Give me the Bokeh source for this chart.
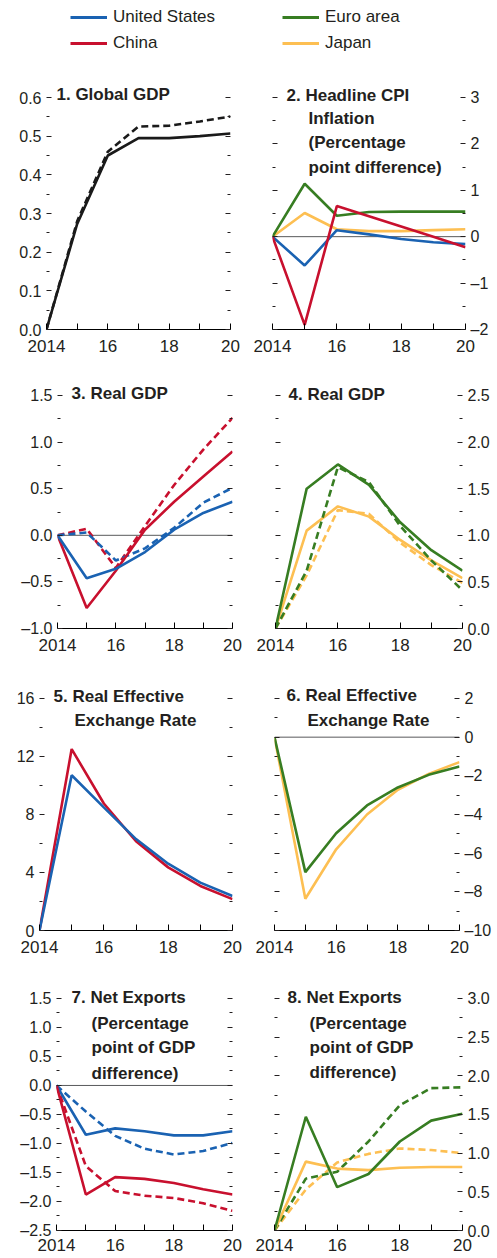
from bokeh.plotting import figure
from bokeh.models import Range1d, FixedTicker, LinearAxis, Span, Label, Legend, LegendItem
from bokeh.layouts import column, row
from bokeh.embed import file_html
from bokeh.resources import INLINE

# ---------------- data ----------------
years = [2014, 2015, 2016, 2017, 2018, 2019, 2020]
year_labels = ["2014", "", "16", "", "18", "", "20"]

legend_names = ["United States", "China", "Euro area", "Japan"]

# 1. Global GDP
p1_solid = [0.0, 0.273, 0.45, 0.495, 0.495, 0.50, 0.507]
p1_dashed = [0.0, 0.28, 0.46, 0.525, 0.527, 0.538, 0.551]
p1_ticks = [0.0, 0.1, 0.2, 0.3, 0.4, 0.5, 0.6]
p1_labels = ["0.0", "0.1", "0.2", "0.3", "0.4", "0.5", "0.6"]

# 2. Headline CPI inflation
p2_us = [0.0, -0.62, 0.14, 0.05, -0.05, -0.12, -0.16]
p2_china = [0.0, -1.9, 0.66, 0.44, 0.22, 0.0, -0.23]
p2_euro = [0.0, 1.14, 0.45, 0.53, 0.54, 0.54, 0.54]
p2_japan = [0.0, 0.51, 0.16, 0.12, 0.12, 0.14, 0.16]
p2_ticks = [-2, -1, 0, 1, 2, 3]
p2_labels = ["\u20132", "\u20131", "0", "1", "2", "3"]

# 3. Real GDP (US, China)
p3_china = [0.0, -0.78, -0.38, 0.06, 0.36, 0.63, 0.90]
p3_china_d = [0.0, 0.07, -0.35, 0.10, 0.54, 0.92, 1.26]
p3_us = [0.0, -0.46, -0.36, -0.18, 0.06, 0.24, 0.36]
p3_us_d = [0.0, 0.03, -0.27, -0.14, 0.08, 0.35, 0.51]
p3_ticks = [-1.0, -0.5, 0.0, 0.5, 1.0, 1.5]
p3_labels = ["\u20131.0", "\u20130.5", "0.0", "0.5", "1.0", "1.5"]

# 4. Real GDP (Euro area, Japan)
p4_euro = [0.0, 1.50, 1.76, 1.54, 1.14, 0.84, 0.62]
p4_euro_d = [0.0, 0.62, 1.73, 1.57, 1.10, 0.73, 0.41]
p4_japan = [0.0, 1.05, 1.31, 1.20, 0.95, 0.73, 0.54]
p4_japan_d = [0.0, 0.57, 1.27, 1.23, 0.92, 0.68, 0.49]
p4_ticks = [0.0, 0.5, 1.0, 1.5, 2.0, 2.5]
p4_labels = ["0.0", "0.5", "1.0", "1.5", "2.0", "2.5"]

# 5. Real effective exchange rate (US, China)
p5_china = [0.0, 12.5, 8.75, 6.15, 4.35, 3.07, 2.16]
p5_us = [0.0, 10.7, 8.48, 6.3, 4.6, 3.3, 2.38]
p5_ticks = [0, 4, 8, 12, 16]
p5_labels = ["0", "4", "8", "12", "16"]

# 6. Real effective exchange rate (Euro area, Japan)
p6_euro = [0.0, -6.98, -4.97, -3.53, -2.6, -1.95, -1.52]
p6_japan = [0.0, -8.36, -5.8, -4.0, -2.72, -1.9, -1.29]
p6_ticks = [-10, -8, -6, -4, -2, 0, 2]
p6_labels = ["\u201310", "\u20138", "\u20136", "\u20134", "\u20132", "0", "2"]

# 7. Net exports (US, China)
p7_us = [0.0, -0.85, -0.74, -0.79, -0.86, -0.86, -0.79]
p7_us_d = [0.0, -0.45, -0.87, -1.09, -1.19, -1.13, -0.99]
p7_china = [0.0, -1.88, -1.58, -1.61, -1.68, -1.79, -1.88]
p7_china_d = [0.0, -1.39, -1.82, -1.90, -1.94, -2.03, -2.16]
p7_ticks = [-2.5, -2.0, -1.5, -1.0, -0.5, 0.0, 0.5, 1.0, 1.5]
p7_labels = ["\u20132.5", "\u20132.0", "\u20131.5", "\u20131.0", "\u20130.5", "0.0", "0.5", "1.0", "1.5"]

# 8. Net exports (Euro area, Japan)
p8_euro = [0.0, 1.47, 0.56, 0.73, 1.15, 1.42, 1.51]
p8_euro_d = [0.0, 0.67, 0.76, 1.15, 1.62, 1.84, 1.85]
p8_japan = [0.0, 0.89, 0.80, 0.78, 0.81, 0.82, 0.82]
p8_japan_d = [0.0, 0.53, 0.88, 0.99, 1.06, 1.04, 1.00]
p8_ticks = [0.0, 0.5, 1.0, 1.5, 2.0, 2.5, 3.0]
p8_labels = ["0.0", "0.5", "1.0", "1.5", "2.0", "2.5", "3.0"]

# ---------------- style ----------------
FONT = "Liberation Sans"
INK = "#231f20"
BLUE = "#1a62b2"
RED = "#c8102e"
GREEN = "#377d22"
YELLOW = "#fdbf52"
BLACK = "#1a1a1a"
LW = 2.6
DASH = "7 4"
PAD = 18  # extra frame room above the top tick so the titles are not clipped


def make_panel(w, h, bl, br, bt, bb, yticks, ylabels, label_side, series,
               title_lines, title_x, title_dy, zero=False, x_standoff=10):
    ymin, ymax = yticks[0], yticks[-1]
    fh = h - bt - bb
    ytop = ymax + (ymax - ymin) * PAD / fh
    p = figure(width=w, height=h, x_range=Range1d(years[0], years[-1]),
               y_range=Range1d(ymin, ytop), output_backend="svg",
               toolbar_location=None, y_axis_location=None,
               min_border_left=bl, min_border_right=br,
               min_border_top=bt - PAD, min_border_bottom=bb)
    p.outline_line_color = None
    p.xgrid.visible = False
    p.ygrid.visible = False
    p.background_fill_color = "white"
    p.border_fill_color = "white"

    xa = p.xaxis[0]
    xa.ticker = FixedTicker(ticks=years)
    xa.major_label_overrides = dict(zip(years, year_labels))
    xa.axis_line_color = "#000000"
    xa.axis_line_width = 1
    xa.major_tick_in = 6
    xa.major_tick_out = 0
    xa.major_tick_line_color = "#000000"
    xa.minor_tick_line_color = None
    xa.major_label_standoff = x_standoff
    xa.major_label_text_font = FONT
    xa.major_label_text_font_size = "17px"
    xa.major_label_text_color = INK

    minor = [(a + b) / 2 for a, b in zip(yticks, yticks[1:])]
    for side in ("left", "right"):
        ax = LinearAxis(ticker=FixedTicker(ticks=yticks, minor_ticks=minor))
        if side == label_side:
            ax.major_label_overrides = dict(zip(yticks, ylabels))
        else:
            ax.major_label_overrides = {t: "" for t in yticks}
        ax.axis_line_color = None
        ax.major_tick_in = 5
        ax.major_tick_out = 0
        ax.minor_tick_in = 3
        ax.minor_tick_out = 0
        ax.major_tick_line_color = INK
        ax.minor_tick_line_color = INK
        ax.major_label_standoff = 5
        ax.major_label_text_font = FONT
        ax.major_label_text_font_size = "16px"
        ax.major_label_text_color = INK
        p.add_layout(ax, side)

    if zero:
        s = Span(location=0, dimension="width", line_color="#58595b", line_width=1, level="underlay")
        p.add_layout(s)

    for vals, color, dashed in series:
        p.line(years, vals, line_color=color, line_width=LW,
               line_dash=DASH if dashed else "solid")

    for i, (txt, dy) in enumerate(zip(title_lines, title_dy)):
        lab = Label(x=years[0], y=ymax, x_offset=title_x[0] if i == 0 else title_x[1],
                    y_offset=dy, text=txt, text_font=FONT, text_font_style="bold",
                    text_font_size="17px", text_color=INK, text_baseline="middle",
                    text_align="left")
        p.add_layout(lab)
    return p


p1 = make_panel(250, 302, 46, 20, 37, 33, p1_ticks, p1_labels, "left",
                [(p1_dashed, BLACK, True), (p1_solid, BLACK, False)],
                ["1. Global GDP"], (10, 10), [3])
p2 = make_panel(247, 302, 22, 32, 37, 32, p2_ticks, p2_labels, "right",
                [(p2_japan, YELLOW, False), (p2_euro, GREEN, False),
                 (p2_us, BLUE, False), (p2_china, RED, False)],
                ["2. Headline CPI", "Inflation", "(Percentage", "point difference)"],
                (14, 36), [2, -21, -45, -70], zero=True)
p3 = make_panel(250, 300, 57, 18, 33, 34, p3_ticks, p3_labels, "left",
                [(p3_china_d, RED, True), (p3_us_d, BLUE, True),
                 (p3_china, RED, False), (p3_us, BLUE, False)],
                ["3. Real GDP"], (14, 14), [2], zero=True)
p4 = make_panel(247, 300, 25, 35, 32, 34, p4_ticks, p4_labels, "right",
                [(p4_japan_d, YELLOW, True), (p4_japan, YELLOW, False),
                 (p4_euro_d, GREEN, True), (p4_euro, GREEN, False)],
                ["4. Real GDP"], (13, 13), [1])
p5 = make_panel(250, 301, 39, 18, 34, 32, p5_ticks, p5_labels, "left",
                [(p5_china, RED, False), (p5_us, BLUE, False)],
                ["5. Real Effective", "Exchange Rate"], (14, 35), [2, -22])
p6 = make_panel(247, 301, 24, 38, 36, 33, p6_ticks, p6_labels, "right",
                [(p6_japan, YELLOW, False), (p6_euro, GREEN, False)],
                ["6. Real Effective", "Exchange Rate"], (12, 33), [3, -22], zero=True)
p7 = make_panel(250, 295, 56, 18, 34, 28, p7_ticks, p7_labels, "left",
                [(p7_us_d, BLUE, True), (p7_china_d, RED, True),
                 (p7_us, BLUE, False), (p7_china, RED, False)],
                ["7. Net Exports", "(Percentage", "point of GDP", "difference)"],
                (15, 35), [1, -25, -49, -75], zero=True, x_standoff=8)
p8 = make_panel(247, 295, 24, 35, 35, 26, p8_ticks, p8_labels, "right",
                [(p8_japan_d, YELLOW, True), (p8_euro_d, GREEN, True),
                 (p8_japan, YELLOW, False), (p8_euro, GREEN, False)],
                ["8. Net Exports", "(Percentage", "point of GDP", "difference)"],
                (13, 35), [1, -25, -49, -74], x_standoff=8)

# ---------------- legend strip ----------------
lg = figure(width=497, height=60, x_range=Range1d(0, 1), y_range=Range1d(0, 1),
            output_backend="svg", toolbar_location=None,
            x_axis_location=None, y_axis_location=None,
            min_border_left=0, min_border_right=0, min_border_top=0, min_border_bottom=0)
lg.outline_line_color = None
lg.xgrid.visible = False
lg.ygrid.visible = False
legend_colors = [BLUE, RED, GREEN, YELLOW]
nan = float("nan")
rends = [lg.line(x=[nan], y=[nan], line_color=c, line_width=3) for c in legend_colors]
for names, rr, xloc in ((legend_names[:2], rends[:2], 70), (legend_names[2:], rends[2:], 282)):
    leg = Legend(items=[LegendItem(label=n, renderers=[r]) for n, r in zip(names, rr)],
                 location=(xloc, 7), orientation="vertical",
                 glyph_width=37, glyph_height=20, label_height=20, label_standoff=6,
                 spacing=6, padding=0, margin=0, border_line_color=None,
                 background_fill_alpha=0, label_text_font=FONT,
                 label_text_font_size="17px", label_text_color=INK)
    lg.add_layout(leg)

layout = column(lg, row(p1, p2), row(p3, p4), row(p5, p6), row(p7, p8))

open("out.html", "w").write(file_html(layout, INLINE))
